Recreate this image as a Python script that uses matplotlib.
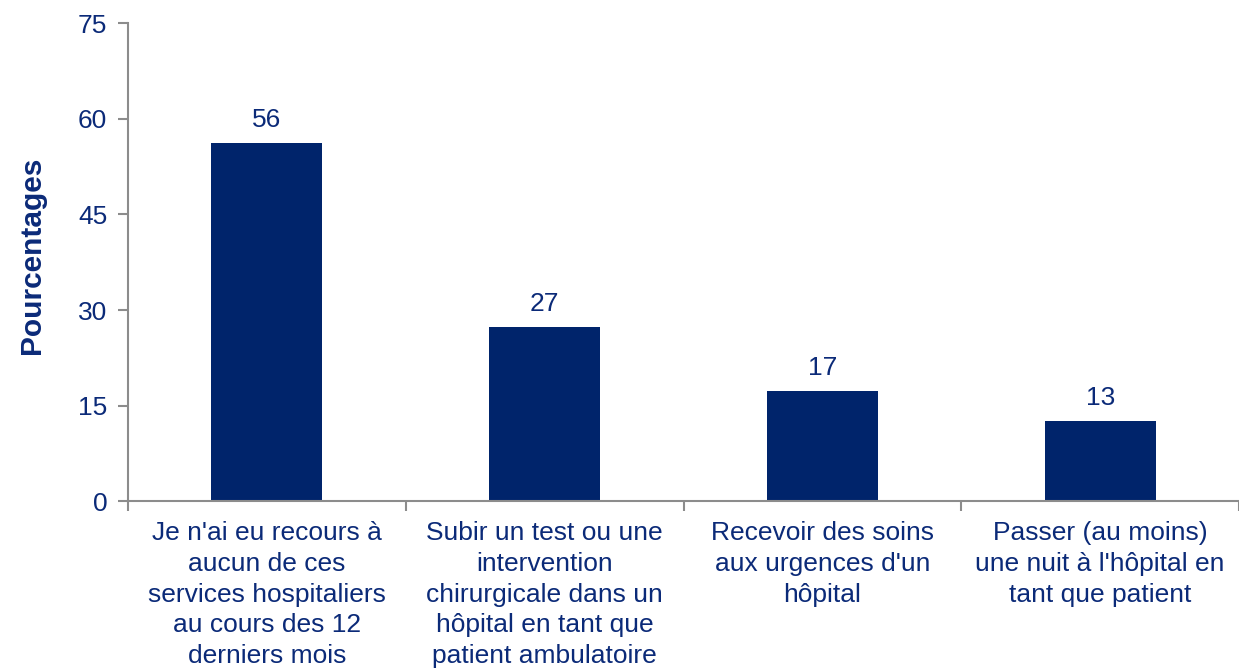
import matplotlib.pyplot as plt

plt.rcParams['font.family'] = ['Liberation Sans', 'DejaVu Sans']

categories = [
    "Je n'ai eu recours à\naucun de ces\nservices hospitaliers\nau cours des 12\nderniers mois",
    "Subir un test ou une\nintervention\nchirurgicale dans un\nhôpital en tant que\npatient ambulatoire",
    "Recevoir des soins\naux urgences d'un\nhôpital",
    "Passer (au moins)\nune nuit à l'hôpital en\ntant que patient",
]
values = [56.2, 27.3, 17.3, 12.6]
labels = ["56", "27", "17", "13"]
yticks = [0, 15, 30, 45, 60, 75]

bar_color = "#00246B"
text_color = "#0B2A78"
axis_color = "#8C8C8C"
fs = 19

fig = plt.figure(figsize=(12.39, 6.69), dpi=100)
ax = fig.add_axes([128 / 1239, 0.2505, 1 - 128 / 1239, 0.7151])

x = list(range(len(values)))
ax.bar(x, values, width=0.4, color=bar_color, zorder=2)

for xi, v, lab in zip(x, values, labels):
    ax.annotate(lab, (xi, v), xytext=(0, 8), textcoords="offset points",
                ha="center", va="bottom", fontsize=fs, color=text_color)

ax.set_xlim(-0.5, 3.42)
ax.set_ylim(0, 75)
ax.set_yticks(yticks)
ax.set_xticks(x)
ax.set_xticklabels(categories, fontsize=fs, color=text_color, va="top", linespacing=1.36)
ax.set_xticks([-0.5, 0.5, 1.5, 2.5, 3.5], minor=True)
ax.tick_params(axis="x", which="major", length=0, pad=14)
ax.tick_params(axis="x", which="minor", length=7, width=1.5, color=axis_color, direction="out")
ax.tick_params(axis="y", length=7, width=1.5, color=axis_color, labelsize=fs,
               labelcolor=text_color, pad=8)

for side in ["top", "right"]:
    ax.spines[side].set_visible(False)
for side in ["left", "bottom"]:
    ax.spines[side].set_color(axis_color)
    ax.spines[side].set_linewidth(1.5)

ax.set_ylabel("Pourcentages", fontsize=21.5, fontweight="bold", color=text_color)
ax.yaxis.set_label_coords(-0.074, 0.515)

fig.savefig("out.png", dpi=100)
